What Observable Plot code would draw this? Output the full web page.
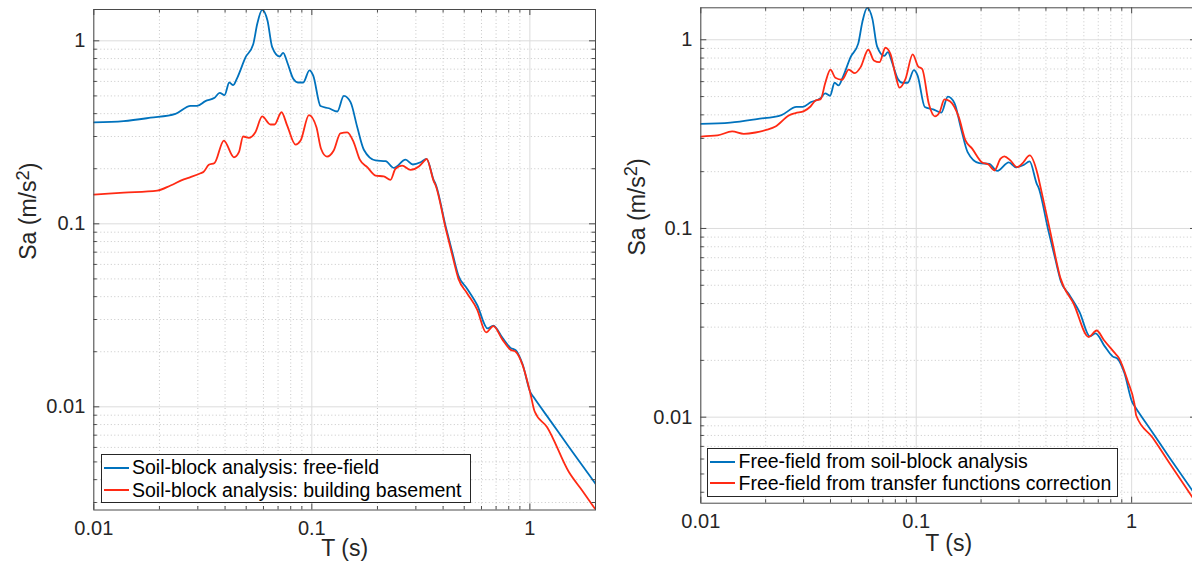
<!DOCTYPE html>
<html><head><meta charset="utf-8">
<script src="https://cdn.jsdelivr.net/npm/d3@7"></script>
<script src="https://cdn.jsdelivr.net/npm/@observablehq/plot@0.6"></script>
<style>
html,body{margin:0;padding:0;background:#fff;overflow:hidden;width:1192px;height:569px;}
#wrap{position:relative;width:1192px;height:569px;overflow:hidden;}
.panel{position:absolute;top:0;}
.legend{position:absolute;background:#fff;border:1px solid #262626;box-sizing:border-box;font-family:"Liberation Sans",Arial,Helvetica,sans-serif;font-size:19.5px;color:#000;}
.row{position:absolute;left:0;height:22px;display:flex;align-items:center;white-space:nowrap;}
.swatch{display:inline-block;width:25px;height:0;border-top:2px solid;margin-left:2px;margin-right:3.5px;}
</style></head>
<body><div id="wrap"></div>
<script>
// ---------- data ----------
// Soil-block analysis: free-field  (same series used in both panels)
const periodFreeField = [0.01,0.0137,0.0182,0.0237,0.0278,0.0298,0.0325,0.0358,0.0378,0.0398,0.0418,0.0436,0.0455,0.0497,0.0538,0.0562,0.0592,0.0626,0.0658,0.0711,0.0739,0.0771,0.0822,0.0863,0.0913,0.0975,0.1015,0.1096,0.1197,0.1308,0.1402,0.1505,0.1616,0.1732,0.196,0.218,0.2377,0.269,0.2906,0.3153,0.3359,0.3628,0.369,0.4113,0.4413,0.4705,0.5134,0.5731,0.64,0.68,0.7487,0.8155,0.8608,0.9245,1.006,1.04,1.25,1.5,2.0];
const saFreeField     = [0.358,0.364,0.38,0.399,0.441,0.441,0.468,0.488,0.52,0.505,0.592,0.573,0.628,0.814,0.954,1.239,1.477,1.29,0.923,0.821,0.86,0.764,0.62,0.592,0.592,0.69,0.646,0.44,0.428,0.411,0.50,0.462,0.337,0.254,0.222,0.22,0.202,0.224,0.211,0.217,0.2266,0.1724,0.1655,0.0965,0.0695,0.052,0.0445,0.036,0.0268,0.0278,0.0238,0.021,0.0204,0.01718,0.012,0.0113,0.0083,0.0061,0.0038];

// Soil-block analysis: building basement
const periodBasement = [0.01,0.01374,0.01954,0.02249,0.02587,0.02777,0.0309,0.0319,0.03369,0.0358,0.03948,0.04393,0.0463,0.0484,0.0514,0.0551,0.0592,0.0646,0.0674,0.0726,0.0771,0.0842,0.0888,0.097,0.105,0.1102,0.1173,0.126,0.1352,0.1453,0.1556,0.166,0.1795,0.196,0.2137,0.2294,0.2419,0.2595,0.2835,0.3095,0.3324,0.3359,0.3628,0.369,0.4113,0.4413,0.4705,0.5134,0.5731,0.63,0.68,0.7487,0.8155,0.8608,0.9245,1.006,1.051,1.2,1.51,1.75,2.0];
const saBasement     = [0.1445,0.148,0.152,0.162,0.175,0.18,0.189,0.1925,0.21,0.215,0.285,0.231,0.2465,0.30,0.295,0.3165,0.386,0.349,0.349,0.407,0.344,0.271,0.285,0.393,0.337,0.257,0.233,0.2516,0.312,0.316,0.279,0.2243,0.204,0.1836,0.1814,0.174,0.2,0.208,0.197,0.2055,0.2243,0.2266,0.17,0.163,0.094,0.067,0.050,0.042,0.034,0.0255,0.0276,0.0233,0.0205,0.020,0.017,0.0118,0.00946,0.00774,0.0044,0.00345,0.00275];

// Free-field from transfer functions correction
const periodTransfer = [0.01,0.01195,0.01398,0.01583,0.01795,0.0203,0.02222,0.02563,0.02753,0.0301,0.0323,0.0341,0.036,0.0379,0.040,0.0421,0.0453,0.0486,0.0519,0.0552,0.0599,0.0636,0.0675,0.0719,0.0759,0.0802,0.0837,0.0892,0.0963,0.1021,0.1066,0.1144,0.1221,0.1284,0.1352,0.1434,0.1576,0.1693,0.1818,0.2016,0.2165,0.2306,0.2463,0.2566,0.2735,0.294,0.31,0.3364,0.3654,0.3776,0.4194,0.4658,0.5382,0.6317,0.6876,0.7428,0.8284,0.8749,0.9568,1.03,1.05,1.25,1.5,2.0];
const saTransfer     = [0.307,0.311,0.3267,0.3174,0.3225,0.3336,0.3472,0.397,0.4086,0.4188,0.443,0.477,0.4847,0.596,0.694,0.629,0.6138,0.694,0.665,0.716,0.885,0.777,0.7606,0.907,0.843,0.647,0.557,0.621,0.836,0.722,0.70,0.458,0.3927,0.4137,0.483,0.472,0.389,0.2926,0.2648,0.2246,0.218,0.203,0.2342,0.241,0.2294,0.2113,0.2203,0.2437,0.195,0.1655,0.0956,0.0552,0.0399,0.0266,0.0288,0.02566,0.0221,0.0205,0.01565,0.01178,0.0102,0.0078,0.0057,0.0035];

// axis ticks and labels
const xTickValues = [0.01, 0.1, 1];
const xTickLabels = ["0.01", "0.1", "1"];
const yTickValues = [0.01, 0.1, 1];
const yTickLabels = ["0.01", "0.1", "1"];
const minorMultiples = [2, 3, 4, 5, 6, 7, 8, 9];
const minorDecades = [0.001, 0.01, 0.1, 1];
const xLabel = "T (s)";
const yLabel = "Sa (m/s2)";

const legendLeft  = ["Soil-block analysis: free-field", "Soil-block analysis: building basement"];
const legendRight = ["Free-field from soil-block analysis", "Free-field from transfer functions correction"];
const colorBlue = "#0072BD";
const colorRed  = "#FF2A14";

// ---------- helpers ----------
const FONT = "'Liberation Sans', Arial, Helvetica, sans-serif";
const minorTicks = (lo, hi) => minorDecades.flatMap(d => minorMultiples.map(m => +(d * m).toPrecision(6))).filter(v => v > lo * 1.0001 && v < hi * 0.9999);
const table = (xs, ys) => xs.map((x, i) => ({T: x, Sa: ys[i]}));

function panel({left, width, mL, mR, mT, mB, yDomain, series, labelDx, xLabelDy, legend, legendBox}) {
  const H = 569;
  const innerH = H - mT - mB;
  const innerW = width - mL - mR;
  const xDomain = [0.01, 2];
  const xMinor = minorTicks(xDomain[0], xDomain[1]);
  const yMinor = minorTicks(yDomain[0], yDomain[1]);
  const frameColor = "#4a4a4a";
  const major = 6, minor = 3.5;
  const chart = Plot.plot({
    width, height: H,
    marginLeft: mL, marginRight: mR, marginTop: mT, marginBottom: mB,
    style: {fontFamily: FONT, background: "#fff", overflow: "visible"},
    x: {type: "log", domain: xDomain},
    y: {type: "log", domain: yDomain},
    marks: [
      Plot.gridX(xMinor, {stroke: "#9a9a9a", strokeOpacity: 0.55, strokeDasharray: "1,2.5"}),
      Plot.gridY(yMinor, {stroke: "#9a9a9a", strokeOpacity: 0.55, strokeDasharray: "1,2.5"}),
      Plot.gridX(xTickValues, {stroke: "#dcdcdc", strokeOpacity: 1}),
      Plot.gridY(yTickValues, {stroke: "#dcdcdc", strokeOpacity: 1}),
      ...series.map(s => Plot.line(table(s.x, s.y), {x: "T", y: "Sa", stroke: s.color, strokeWidth: 1.8, curve: "monotone-x", clip: true})),
      Plot.frame({stroke: frameColor, strokeWidth: 1}),
      // inward ticks (MATLAB style) on all four sides
      Plot.ruleX(xTickValues, {stroke: frameColor, insetTop: innerH - major}),
      Plot.ruleX(xTickValues, {stroke: frameColor, insetBottom: innerH - major}),
      Plot.ruleX(xMinor, {stroke: frameColor, insetTop: innerH - minor}),
      Plot.ruleX(xMinor, {stroke: frameColor, insetBottom: innerH - minor}),
      Plot.ruleY(yTickValues, {stroke: frameColor, insetRight: innerW - major}),
      Plot.ruleY(yTickValues, {stroke: frameColor, insetLeft: innerW - major}),
      Plot.ruleY(yMinor, {stroke: frameColor, insetRight: innerW - minor}),
      Plot.ruleY(yMinor, {stroke: frameColor, insetLeft: innerW - minor}),
      Plot.axisX(xTickValues, {tickSize: 0, tickPadding: 11, fontSize: 20, fill: "#262626", label: null,
        tickFormat: d => xTickLabels[xTickValues.indexOf(d)]}),
      Plot.axisY(yTickValues, {tickSize: 0, tickPadding: 8.5, fontSize: 20, fill: "#262626", label: null,
        tickFormat: d => yTickLabels[yTickValues.indexOf(d)]}),
      Plot.text([xLabel], {frameAnchor: "bottom", dy: xLabelDy, fontSize: 23, fill: "#262626"}),
      Plot.text([yLabel], {frameAnchor: "left", dx: labelDx, rotate: -90, fontSize: 23, fill: "#262626"})
    ]
  });
  // render the "2" of m/s2 as a superscript
  d3.select(chart).selectAll("text").filter(function() { return this.textContent === yLabel; }).each(function() {
    const t = d3.select(this);
    t.text(null);
    t.append("tspan").text("Sa (m/s");
    t.append("tspan").attr("dy", "-0.42em").attr("font-size", "0.8em").text("2");
    t.append("tspan").attr("dy", "0.34em").text(")");
  });
  chart.classList.add("panel");
  chart.style.left = left + "px";
  document.getElementById("wrap").appendChild(chart);

  // legend box
  const box = document.createElement("div");
  box.className = "legend";
  Object.assign(box.style, {left: legendBox.x + "px", top: legendBox.y + "px", width: legendBox.w + "px", height: legendBox.h + "px"});
  legend.forEach((txt, i) => {
    const row = document.createElement("div");
    row.className = "row";
    row.style.top = (legendBox.rows[i] - 11 - 1) + "px";
    const sw = document.createElement("span");
    sw.className = "swatch";
    sw.style.borderTopColor = series[i].color;
    const t = document.createElement("span");
    t.textContent = txt;
    row.appendChild(sw); row.appendChild(t);
    box.appendChild(row);
  });
  document.getElementById("wrap").appendChild(box);
}

panel({
  left: 0, width: 600, mL: 93.3, mR: 5, mT: 9, mB: 59.5,
  yDomain: [0.00273, 1.483],
  series: [
    {x: periodFreeField, y: saFreeField, color: colorBlue},
    {x: periodBasement, y: saBasement, color: colorRed}
  ],
  labelDx: -64.7, xLabelDy: 46.3,
  legend: legendLeft,
  legendBox: {x: 100.5, y: 454, w: 370.5, h: 48.7, rows: [13.5, 36]}
});

panel({
  left: 600, width: 596, mL: 100.3, mR: 0, mT: 7.3, mB: 66.3,
  yDomain: [0.0035, 1.477],
  series: [
    {x: periodFreeField, y: saFreeField, color: colorBlue},
    {x: periodTransfer, y: saTransfer, color: colorRed}
  ],
  labelDx: -63.1, xLabelDy: 48,
  legend: legendRight,
  legendBox: {x: 707, y: 448.3, w: 410.5, h: 48.4, rows: [13.4, 35]}
});
</script></body></html>
